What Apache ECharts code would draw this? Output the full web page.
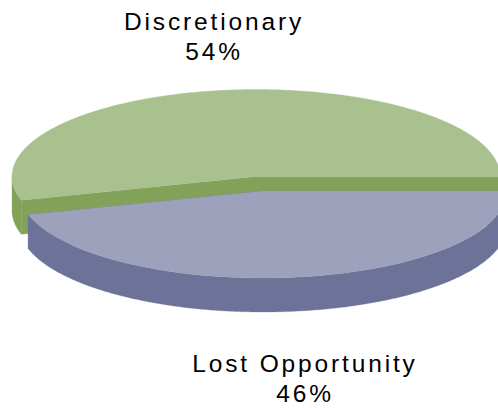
<!DOCTYPE html>
<html><head><meta charset="utf-8">
<style>html,body{margin:0;padding:0;background:#fff;overflow:hidden}
#c{width:498px;height:409px;letter-spacing:2.85px}</style>
<script src="https://cdn.jsdelivr.net/npm/echarts@6/dist/echarts.min.js"></script>
</head><body><div id="c"></div>
<script>
const categories = ['Discretionary', 'Lost Opportunity'];
const values = [54.4, 45.6];
const topColors = ['#a8c18f', '#9da1bb'];
const sideColors = ['#82a25a', '#6d7299'];
const centersX = [256, 263];
const centersY = [176.5, 191];
const labelX = [214, 305];
const labelY = [36, 378];
const RX = 244, RY = 87, DEPTH = 34;

const total = values.reduce((a, b) => a + b, 0);
function arc(i, a0, a1, dy) {
  const pts = [];
  const n = Math.max(2, Math.ceil((a1 - a0) / 0.01));
  for (let k = 0; k <= n; k++) {
    const a = a0 + (a1 - a0) * k / n;
    pts.push([centersX[i] + RX * Math.cos(a), centersY[i] + RY * Math.sin(a) + dy]);
  }
  return pts;
}
function poly(points, fill) {
  return { type: 'polygon', shape: { points }, style: { fill, stroke: fill, lineWidth: 0.3 } };
}
function renderItem(params, api) {
  const i = params.dataIndex;
  // slices run clockwise from the right-hand side, last category first
  let start = 0;
  for (let k = i + 1; k < values.length; k++) start += values[k];
  const a0 = start / total * 2 * Math.PI;
  const a1 = (start + api.value(0)) / total * 2 * Math.PI;
  const cx = centersX[i], cy = centersY[i];
  const children = [];
  const side = sideColors[i];
  // outer wall: only the part of the rim facing the viewer
  if (a0 < Math.PI) {
    const e = Math.min(a1, Math.PI);
    children.push(poly(arc(i, a0, e, 0).concat(arc(i, a0, e, DEPTH).reverse()), side));
  }
  // cut faces
  [a0, a1].forEach(a => {
    const p = arc(i, a, a, 0)[0];
    children.push(poly([[cx, cy], p, [p[0], p[1] + DEPTH], [cx, cy + DEPTH]], side));
  });
  // top face
  children.push(poly([[cx, cy]].concat(arc(i, a0, a1, 0)), topColors[i]));
  children.push({
    type: 'text',
    style: {
      x: labelX[i], y: labelY[i],
      text: categories[i] + '\n' + Math.round(api.value(0) / total * 100) + '%',
      fill: '#000', align: 'center', verticalAlign: 'middle',
      font: '24.5px "Liberation Sans", Arial, sans-serif', lineHeight: 30
    }
  });
  return { type: 'group', children };
}
const chart = echarts.init(document.getElementById('c'), null, { renderer: 'svg' });
chart.setOption({
  animation: false,
  series: [{
    type: 'custom', coordinateSystem: 'none', renderItem,
    data: values.map((v, i) => ({ value: [v], name: categories[i] }))
  }]
});
</script></body></html>
